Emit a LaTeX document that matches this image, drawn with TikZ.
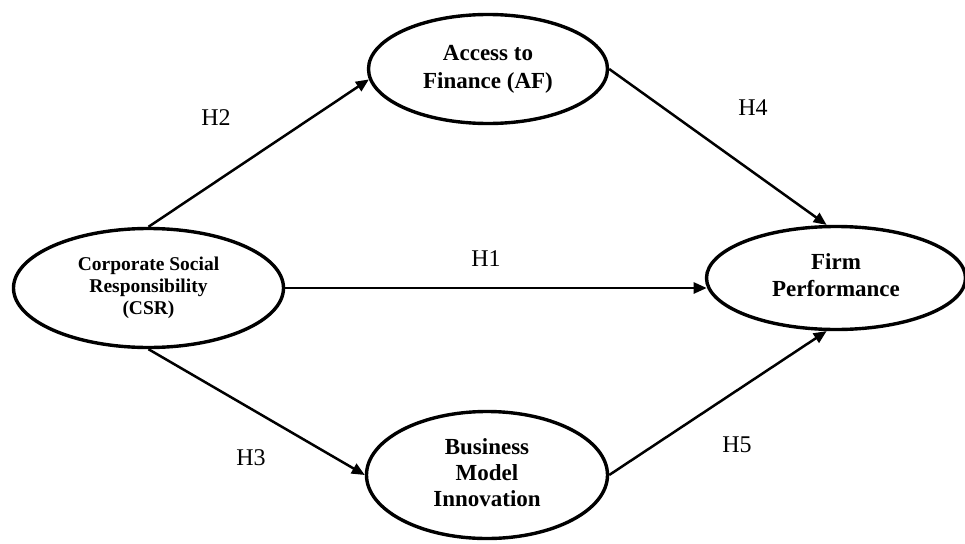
\documentclass[tikz,border=0pt]{standalone}
\usepackage{fontspec}
\setmainfont{Liberation Serif}
\usetikzlibrary{shapes.geometric,arrows.meta}
\tikzset{
  construct/.style={ellipse, draw=black, line width=3.4pt, inner sep=0pt, align=center, fill=white},
  hyp/.style={draw=black, line width=2.5pt, -{Triangle[length=13pt,width=11pt]}},
  hlabel/.style={inner sep=0pt, font=\fontsize{24}{28}\selectfont}
}
\begin{document}
\begin{tikzpicture}[x=1pt,y=-1pt]
\useasboundingbox (0,0) rectangle (965,543);
\fill[white] (0,0) rectangle (965,543);

\node[construct, minimum width=270pt, minimum height=119pt,
      font=\bfseries\fontsize{19.5}{22}\selectfont] (csr) at (148.5,288)
  {Corporate Social\\Responsibility\\(CSR)};
\node[construct, minimum width=239pt, minimum height=109pt,
      font=\bfseries\fontsize{23}{28}\selectfont] (af) at (488,69)
  {Access to\\Finance (AF)};
\node[construct, minimum width=241pt, minimum height=127pt,
      font=\bfseries\fontsize{23}{26}\selectfont] (bmi) at (487,475)
  {\raisebox{-4pt}{\begin{tabular}{@{}c@{}}Business\\Model\\Innovation\end{tabular}}};
\node[construct, minimum width=259pt, minimum height=103pt,
      font=\bfseries\fontsize{23}{27}\selectfont] (fp) at (836,278)
  {\raisebox{2pt}{\begin{tabular}{@{}c@{}}Firm\\Performance\end{tabular}}};

\draw[hyp] (csr.north) -- (af.185);
\draw[hyp] (csr.south) -- (bmi.west);
\draw[hyp] (csr.east) -- (csr.east -| fp.184.5);
\draw[hyp] (af.east) -- (fp.100);
\draw[hyp] (bmi.east) -- (fp.260);

\node[hlabel] (h1) at (486,259) {H1};
\node[hlabel] (h2) at (216,118) {H2};
\node[hlabel] (h3) at (251,458) {H3};
\node[hlabel] (h4) at (753,108) {H4};
\node[hlabel] (h5) at (737,445) {H5};
\end{tikzpicture}
\end{document}
